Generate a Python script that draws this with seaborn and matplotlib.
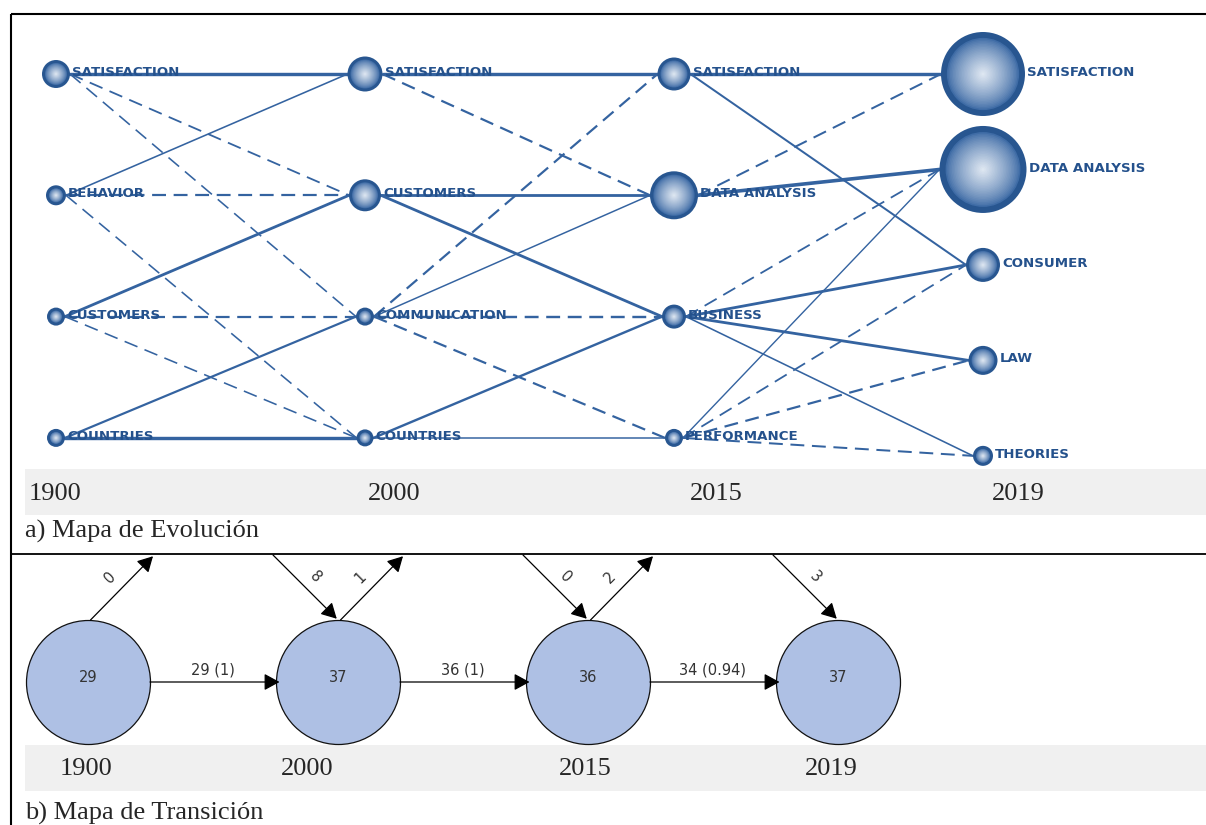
import numpy as np
import pandas as pd
import matplotlib.pyplot as plt
import seaborn as sns
from matplotlib.patches import Rectangle
from matplotlib.colors import to_rgb

# --- 1. Data ---
periods = ['1900', '2000', '2015', '2019']

themes_1900 = ['SATISFACTION', 'BEHAVIOR', 'CUSTOMERS', 'COUNTRIES']
themes_2000 = ['SATISFACTION', 'CUSTOMERS', 'COMMUNICATION', 'COUNTRIES']
themes_2015 = ['SATISFACTION', 'DATA ANALYSIS', 'BUSINESS', 'PERFORMANCE']
themes_2019 = ['SATISFACTION', 'DATA ANALYSIS', 'CONSUMER', 'LAW', 'THEORIES']

# bubble radius (px) of every theme
radius_1900 = [14, 10, 9, 9]
radius_2000 = [17.5, 16, 9, 8.5]
radius_2015 = [16.5, 24, 12, 9]
radius_2019 = [42, 43.5, 17, 14.5, 10]

# links between consecutive periods: (source, target, kind, width px)
links_1900_2000 = [
    ('SATISFACTION', 'SATISFACTION', 'solid', 3.4),
    ('SATISFACTION', 'CUSTOMERS', 'dashed', 1.8),
    ('SATISFACTION', 'COMMUNICATION', 'dashed', 1.6),
    ('BEHAVIOR', 'SATISFACTION', 'solid', 1.6),
    ('BEHAVIOR', 'CUSTOMERS', 'dashed', 2.2),
    ('BEHAVIOR', 'COUNTRIES', 'dashed', 1.6),
    ('CUSTOMERS', 'CUSTOMERS', 'solid', 2.8),
    ('CUSTOMERS', 'COMMUNICATION', 'dashed', 2.2),
    ('CUSTOMERS', 'COUNTRIES', 'dashed', 1.6),
    ('COUNTRIES', 'COMMUNICATION', 'solid', 2.2),
    ('COUNTRIES', 'COUNTRIES', 'solid', 3.4),
]
links_2000_2015 = [
    ('SATISFACTION', 'SATISFACTION', 'solid', 3.4),
    ('SATISFACTION', 'DATA ANALYSIS', 'dashed', 2.2),
    ('CUSTOMERS', 'DATA ANALYSIS', 'solid', 2.8),
    ('CUSTOMERS', 'BUSINESS', 'solid', 2.8),
    ('COMMUNICATION', 'SATISFACTION', 'dashed', 2.2),
    ('COMMUNICATION', 'DATA ANALYSIS', 'solid', 1.5),
    ('COMMUNICATION', 'BUSINESS', 'dashed', 2.4),
    ('COMMUNICATION', 'PERFORMANCE', 'dashed', 2.2),
    ('COUNTRIES', 'BUSINESS', 'solid', 2.4),
    ('COUNTRIES', 'PERFORMANCE', 'solid', 1.5),
]
links_2015_2019 = [
    ('SATISFACTION', 'SATISFACTION', 'solid', 3.4),
    ('SATISFACTION', 'CONSUMER', 'solid', 2.0),
    ('DATA ANALYSIS', 'SATISFACTION', 'dashed', 2.0),
    ('DATA ANALYSIS', 'DATA ANALYSIS', 'solid', 3.6),
    ('BUSINESS', 'DATA ANALYSIS', 'dashed', 1.8),
    ('BUSINESS', 'CONSUMER', 'solid', 2.8),
    ('BUSINESS', 'LAW', 'solid', 2.8),
    ('BUSINESS', 'THEORIES', 'solid', 1.6),
    ('PERFORMANCE', 'DATA ANALYSIS', 'solid', 1.4),
    ('PERFORMANCE', 'CONSUMER', 'dashed', 1.8),
    ('PERFORMANCE', 'LAW', 'dashed', 2.2),
    ('PERFORMANCE', 'THEORIES', 'dashed', 2.0),
]

# transition map
docs_per_period = [29, 37, 36, 37]
shared_labels = ['29 (1)', '36 (1)', '34 (0.94)']
incoming_labels = [None, '8', '0', '3']
outgoing_labels = ['0', '1', '2', None]

# --- 2. Layout / style ---
W, H = 1206, 825
PX2PT = 72 / 100
COL_PX, ROW_PX = 309, 121.3      # evolution map spacing
X0, Y0 = 56, 74                  # first bubble centre
STEP_2019 = 0.787                # last column packs 5 themes
T_COL, TX0, TY0 = 250, 88, 682   # transition map
R_T = 62 / T_COL
SEP_Y = 554

EDGE_C = '#3463a0'
NODE_DARK = '#285690'
LABEL_C = '#24518c'
BAND_C = '#f0f0f0'
SERIF = 'Liberation Serif'

sns.set_theme(style='white')
plt.rcParams['font.family'] = ['DejaVu Sans']
plt.rcParams['lines.scale_dashes'] = False

fig = plt.figure(figsize=(W / 100, H / 100), dpi=100)

# background: frame, bands, captions, period labels
bg = fig.add_axes([0, 0, 1, 1])
bg.set_xlim(0, W); bg.set_ylim(H, 0); bg.axis('off')
bg.add_patch(Rectangle((25, 469), W - 25, 46, color=BAND_C, lw=0))
bg.add_patch(Rectangle((25, 745), W - 25, 46, color=BAND_C, lw=0))
bg.plot([11, W], [14, 14], color='black', lw=1.5, solid_capstyle='butt')
bg.plot([11, W], [SEP_Y, SEP_Y], color='black', lw=1.3, solid_capstyle='butt')
bg.plot([11, 11], [14, H], color='black', lw=1.5, solid_capstyle='butt')
for xc, p in zip([55, 394, 716, 1018], periods):
    bg.text(xc, 500, p, ha='center', va='baseline', fontsize=19, family=SERIF)
for xc, p in zip([86, 307, 585, 831], periods):
    bg.text(xc, 775, p, ha='center', va='baseline', fontsize=19, family=SERIF)
bg.text(25, 538, 'a) Mapa de Evolución', ha='left', va='baseline', fontsize=19, family=SERIF)
bg.text(25, 820, 'b) Mapa de Transición', ha='left', va='baseline', fontsize=19, family=SERIF)

# --- 3. Evolution map ---
top = fig.add_axes([0, (H - SEP_Y) / H, 1, (SEP_Y - 14) / H])
top.set_xlim(-X0 / COL_PX, (W - X0) / COL_PX)
top.set_ylim((SEP_Y - Y0) / ROW_PX, (14 - Y0) / ROW_PX)
top.axis('off')

themes = [themes_1900, themes_2000, themes_2015, themes_2019]
radii = [radius_1900, radius_2000, radius_2015, radius_2019]
rows = []
for k, (names, rads) in enumerate(zip(themes, radii)):
    step = 1.0 if len(names) == 4 else STEP_2019
    for i, (n, r) in enumerate(zip(names, rads)):
        rows.append({'period': periods[k], 'col': k, 'theme': n, 'row': i * step, 'r': r})
nodes = pd.DataFrame(rows)
lookup = {(d.col, d.theme): d for d in nodes.itertuples()}

segs = []
for k, links in enumerate([links_1900_2000, links_2000_2015, links_2015_2019]):
    for j, (a, b, kind, w) in enumerate(links):
        na, nb = lookup[(k, a)], lookup[(k + 1, b)]
        eid = f'{k}-{j}'
        segs.append({'edge': eid, 'x': na.col + na.r / COL_PX, 'y': na.row, 'kind': kind, 'w': w})
        segs.append({'edge': eid, 'x': nb.col - nb.r / COL_PX, 'y': nb.row, 'kind': kind, 'w': w})
edges = pd.DataFrame(segs)

sns.lineplot(data=edges, x='x', y='y', units='edge', estimator=None,
             style='kind', dashes={'solid': '', 'dashed': (10, 5.5)},
             size='w', sizes={w: w * PX2PT for w in edges['w'].unique()},
             color=EDGE_C, legend=False, ax=top, zorder=2)

# shaded bubbles: dark rim, smooth radial gradient to a pale centre
c_out, c_in = np.array(to_rgb('#3f6ca6')), np.array(to_rgb('#dde6f1'))
sns.scatterplot(data=nodes, x='col', y='row', s=(2 * nodes['r'] * PX2PT) ** 2,
                color=NODE_DARK, edgecolor='none', linewidth=0, legend=False, ax=top, zorder=3)
inner = nodes['r'] - np.maximum(3.0, 0.14 * nodes['r'])
n_steps = 24
for i in range(n_steps):
    f = i / n_steps
    t = (i / (n_steps - 1)) ** 0.8
    col = tuple(c_out + (c_in - c_out) * t)
    sns.scatterplot(data=nodes, x='col', y='row', s=(2 * inner * (1 - f) * PX2PT) ** 2,
                    color=col, edgecolor='none', linewidth=0, legend=False, ax=top, zorder=4 + i)

for d in nodes.itertuples():
    top.annotate(d.theme, (d.col, d.row), xytext=(d.r * PX2PT + 1.5, -1.5),
                 textcoords='offset points', ha='left', va='baseline',
                 fontsize=9.6, fontweight='bold', color=LABEL_C, zorder=60)
top.set_xlabel(''); top.set_ylabel('')

# --- 4. Transition map ---
bot = fig.add_axes([0, 0, 1, (H - SEP_Y) / H])
bot.set_xlim(-TX0 / T_COL, (W - TX0) / T_COL)
bot.set_ylim(-(H - TY0) / T_COL, (TY0 - SEP_Y) / T_COL)
bot.axis('off')

trans = pd.DataFrame({'col': range(len(periods)), 'y': 0.0, 'docs': docs_per_period})
sns.scatterplot(data=trans, x='col', y='y', s=(2 * 62 * PX2PT) ** 2, color='#aec0e4',
                edgecolor='#111111', linewidth=0.9, legend=False, ax=bot, zorder=3)
for d in trans.itertuples():
    bot.text(d.col, 0.02, str(d.docs), ha='center', va='center', fontsize=10.5,
             color='#333333', zorder=5)

arrow = dict(arrowstyle='-|>,head_length=0.55,head_width=0.3', color='black',
             lw=0.9, shrinkA=0, shrinkB=0, mutation_scale=17)
for k, lab in enumerate(shared_labels):
    bot.annotate('', xy=(k + 1 - R_T + 0.014, 0), xytext=(k + R_T, 0), arrowprops=arrow, zorder=4)
    bot.text(k + 0.5, 0.048, lab, ha='center', va='center', fontsize=10.5, color='#333333')

d = 0.26
for k in range(len(periods)):
    if outgoing_labels[k] is not None:
        bot.annotate('', xy=(k + d, R_T + d - 0.005), xytext=(k + 0.01, R_T),
                     arrowprops=arrow, zorder=4)
        bot.text(k + d / 2 - 0.04, R_T + d / 2 + 0.04, outgoing_labels[k], rotation=45,
                 ha='center', va='center', fontsize=10.5, color='#333333')
    if incoming_labels[k] is not None:
        bot.annotate('', xy=(k - 0.005, R_T + 0.005), xytext=(k - d, R_T + d),
                     arrowprops=arrow, zorder=4)
        bot.text(k - d / 2 + 0.04, R_T + d / 2 + 0.04, incoming_labels[k], rotation=-45,
                 ha='center', va='center', fontsize=10.5, color='#333333')

fig.savefig('out.png', dpi=100)
